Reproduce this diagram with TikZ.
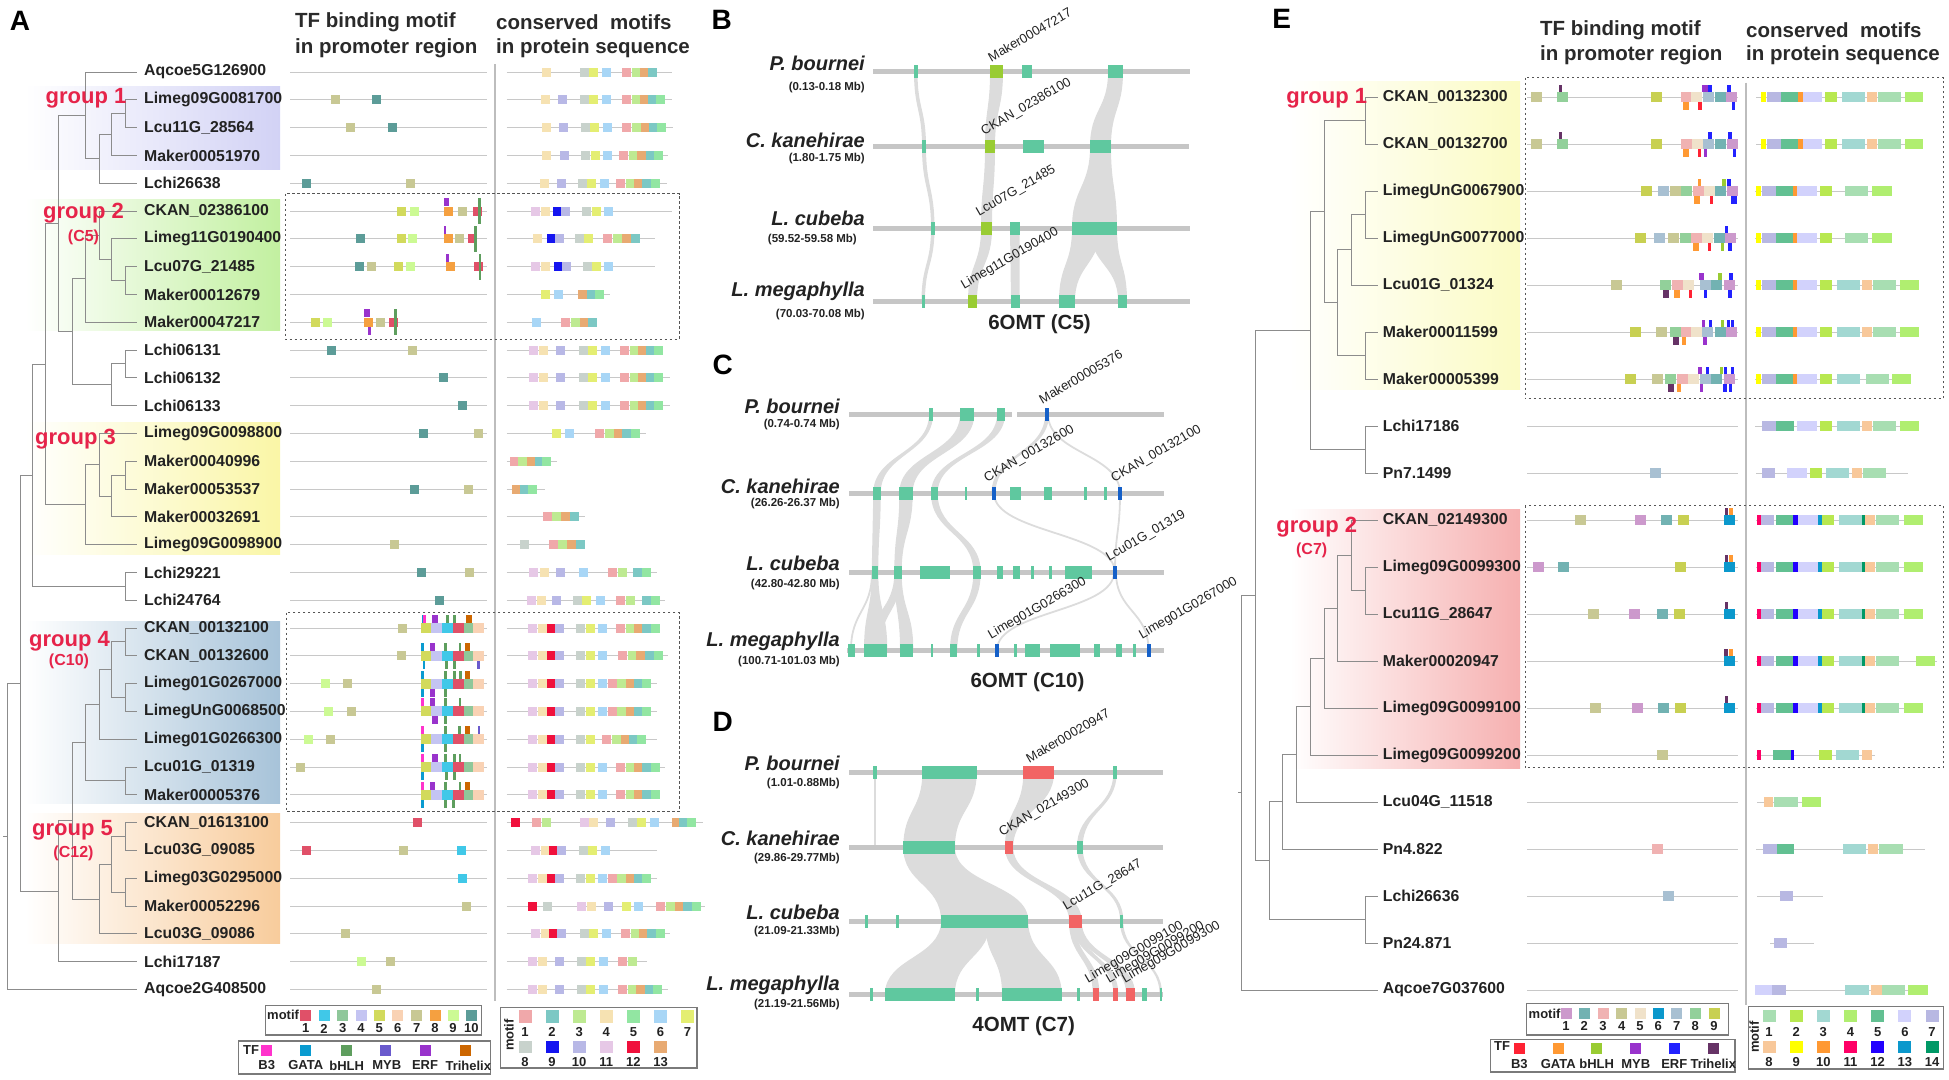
\documentclass[tikz,border=0pt]{standalone}
\usepackage{fontspec}
\setmainfont{Liberation Sans}
\definecolor{labc}{HTML}{222222}
\definecolor{treec}{HTML}{8C8C8C}
\definecolor{grpred}{HTML}{E6244A}
\definecolor{hdrc}{HTML}{2A2A2A}
\definecolor{seqc}{HTML}{C8C8C8}
\definecolor{sepc}{HTML}{BDBDBD}
\definecolor{dashc}{HTML}{555555}
\definecolor{legc}{HTML}{7A7A7A}
\definecolor{G1A}{HTML}{D2D2F5}
\definecolor{G2A}{HTML}{C2F0A0}
\definecolor{G3A}{HTML}{FAF6A6}
\definecolor{G4A}{HTML}{A7C3D9}
\definecolor{G5A}{HTML}{F8CC9C}
\definecolor{G1E}{HTML}{FBFBC4}
\definecolor{G2E}{HTML}{F6B0B0}
\definecolor{Apm1}{HTML}{E05068}
\definecolor{Apm2}{HTML}{40C8E8}
\definecolor{Apm3}{HTML}{8FC79A}
\definecolor{Apm4}{HTML}{C4C4F2}
\definecolor{Apm5}{HTML}{D2DA5C}
\definecolor{Apm6}{HTML}{F9D2B4}
\definecolor{Apm7}{HTML}{C8C894}
\definecolor{Apm8}{HTML}{F5A040}
\definecolor{Apm9}{HTML}{CCFA94}
\definecolor{Apm10}{HTML}{5C9C98}
\definecolor{aB3}{HTML}{FF33CC}
\definecolor{aGATA}{HTML}{0A9BD0}
\definecolor{abHLH}{HTML}{5E9E5E}
\definecolor{aMYB}{HTML}{6A5ACD}
\definecolor{aERF}{HTML}{9933CC}
\definecolor{aTri}{HTML}{CC6600}
\definecolor{Apr1}{HTML}{F0A8AA}
\definecolor{Apr2}{HTML}{7CC8C4}
\definecolor{Apr3}{HTML}{BEEA92}
\definecolor{Apr4}{HTML}{F6E2B2}
\definecolor{Apr5}{HTML}{92E6A2}
\definecolor{Apr6}{HTML}{A8D6F6}
\definecolor{Apr7}{HTML}{E4EE72}
\definecolor{Apr8}{HTML}{C8D2CC}
\definecolor{Apr9}{HTML}{1414F0}
\definecolor{Apr10}{HTML}{B8B8E6}
\definecolor{Apr11}{HTML}{E6C8E6}
\definecolor{Apr12}{HTML}{F0103C}
\definecolor{Apr13}{HTML}{E8AA72}
\definecolor{Epm1}{HTML}{CC99CC}
\definecolor{Epm2}{HTML}{72B2B2}
\definecolor{Epm3}{HTML}{F0B2B2}
\definecolor{Epm4}{HTML}{C8C894}
\definecolor{Epm5}{HTML}{F0E2CA}
\definecolor{Epm6}{HTML}{0B98CC}
\definecolor{Epm7}{HTML}{A8C0D2}
\definecolor{Epm8}{HTML}{92D09A}
\definecolor{Epm9}{HTML}{C8D052}
\definecolor{eB3}{HTML}{FF2233}
\definecolor{eGATA}{HTML}{FF9933}
\definecolor{ebHLH}{HTML}{99CC33}
\definecolor{eMYB}{HTML}{9933CC}
\definecolor{eERF}{HTML}{2222FF}
\definecolor{eTri}{HTML}{663366}
\definecolor{Epr1}{HTML}{A8DEB2}
\definecolor{Epr2}{HTML}{B8E850}
\definecolor{Epr3}{HTML}{A2D8D2}
\definecolor{Epr4}{HTML}{B0EE70}
\definecolor{Epr5}{HTML}{62C092}
\definecolor{Epr6}{HTML}{D2D2FC}
\definecolor{Epr7}{HTML}{B8B8E2}
\definecolor{Epr8}{HTML}{F8C89A}
\definecolor{Epr9}{HTML}{FFFF00}
\definecolor{Epr10}{HTML}{FF9933}
\definecolor{Epr11}{HTML}{FF0066}
\definecolor{Epr12}{HTML}{2200FF}
\definecolor{Epr13}{HTML}{0B98CC}
\definecolor{Epr14}{HTML}{009966}
\definecolor{genec}{HTML}{5FC89F}
\definecolor{limec}{HTML}{99CC33}
\definecolor{bluec}{HTML}{1560C8}
\definecolor{redc}{HTML}{F26464}
\definecolor{chrc}{HTML}{C6C6C6}
\definecolor{ribc}{HTML}{DCDCDC}

\newcommand{\rib}[6]{\fill[ribc] (#1,#3) .. controls (#1,{(#3+#6)/2}) and (#4,{(#3+#6)/2}) .. (#4,#6) -- (#5,#6) .. controls (#5,{(#3+#6)/2}) and (#2,{(#3+#6)/2}) .. (#2,#3) -- cycle;}
\newcommand{\thinrib}[4]{\draw[ribc, line width=1.8pt] (#1,#2) .. controls (#1,{(#2+#4)/2}) and (#3,{(#2+#4)/2}) .. (#3,#4);}
\newcommand{\gbox}[4]{\fill[#4] (#1,{#3-6.5}) rectangle (#2,{#3+6.5});}

\begin{document}
\begin{tikzpicture}[x=1pt,y=-1pt,
 tl/.style={draw=treec, line width=0.9pt},
 lab/.style={anchor=west, inner sep=0, font=\fontsize{15.8}{18}\selectfont\bfseries, text=labc},
 grp/.style={inner sep=0, font=\fontsize{22}{24}\selectfont\bfseries, text=grpred},
 grpsub/.style={inner sep=0, font=\fontsize{16}{18}\selectfont\bfseries, text=grpred},
 hdr/.style={anchor=west, inner sep=0, font=\fontsize{20.5}{23}\selectfont\bfseries, text=hdrc},
 seqline/.style={draw=seqc, line width=0.8pt},
 sepline/.style={draw=sepc, line width=2.5pt},
 dbox/.style={draw=dashc, line width=0.9pt, dash pattern=on 2.5pt off 2.5pt},
 panel/.style={inner sep=0, font=\fontsize{28}{30}\selectfont\bfseries},
 sp/.style={anchor=east, inner sep=0, font=\fontsize{20}{22}\selectfont\bfseries\itshape, text=labc},
 spr/.style={anchor=east, inner sep=0, font=\fontsize{11.5}{13}\selectfont\bfseries, text=labc},
 chr/.style={draw=chrc, line width=5pt},
 glab/.style={anchor=south west, rotate=30, inner sep=1pt, font=\fontsize{13}{15}\selectfont, text=labc},
 omt/.style={inner sep=0, font=\fontsize{20.5}{22}\selectfont\bfseries, text=labc},
 leg/.style={draw=legc, line width=1.2pt},
 legn/.style={inner sep=0, font=\fontsize{13}{15}\selectfont\bfseries, text=labc},
]
\useasboundingbox (0,0) rectangle (1949,1079);

%================ PANEL A =================
\node[panel] (pA) at (20,20.7) {A};
\shade[left color=white, right color=G1A] (25,86) rectangle (280,169);
\shade[left color=white, right color=G2A] (25,199) rectangle (280,330);
\shade[left color=white, right color=G3A] (25,422) rectangle (280,554);
\shade[left color=white, right color=G4A] (25,621) rectangle (280,803);
\shade[left color=white, right color=G5A] (25,813) rectangle (280,943);

\foreach \i in {0,...,33} \coordinate (tA\i) at (137,{72+27.8*\i});
\coordinate (Aa) at (125,113.7);
\coordinate (Ab) at (111,134.55);
\coordinate (Ac) at (99,158.9);
\coordinate (Ad) at (85,115.4);
\coordinate (Ae) at (125,280.5);
\coordinate (Af) at (111,259.65);
\coordinate (Ag) at (99,235.3);
\coordinate (Ah) at (85,278.8);
\coordinate (Ai) at (125,363.9);
\coordinate (Aj) at (111,384.75);
\coordinate (Ak) at (72,331.8);
\coordinate (Al) at (58,223.6);
\coordinate (Am) at (125,475.1);
\coordinate (An) at (111,495.95);
\coordinate (Ao) at (99,464.7);
\coordinate (Ap) at (85,504.65);
\coordinate (Aq) at (45,364.1);
\coordinate (Ar) at (125,586.3);
\coordinate (As) at (32,475.2);
\coordinate (At) at (125,641.9);
\coordinate (Au) at (125,697.5);
\coordinate (Av) at (111,669.7);
\coordinate (Aw) at (99,704.45);
\coordinate (Ax) at (125,780.9);
\coordinate (Ay) at (85,742.7);
\coordinate (Az1) at (125,836.5);
\coordinate (Az2) at (125,892.1);
\coordinate (Az3) at (111,864.3);
\coordinate (Az4) at (99,899.05);
\coordinate (Az5) at (72,820.9);
\coordinate (Az6) at (58,891.25);
\coordinate (Az7) at (20,683.2);
\coordinate (Art) at (7,836.3);
\coordinate (Astub) at (3,836.3);
\foreach \p/\c in {Aa/tA1,Aa/tA2,Ab/Aa,Ab/tA3,Ac/Ab,Ac/tA4,Ad/tA0,Ad/Ac,
  Ae/tA7,Ae/tA8,Af/tA6,Af/Ae,Ag/tA5,Ag/Af,Ah/Ag,Ah/tA9,Ai/tA10,Ai/tA11,Aj/Ai,Aj/tA12,
  Ak/Ah,Ak/Aj,Al/Ad,Al/Ak,Am/tA14,Am/tA15,An/Am,An/tA16,Ao/tA13,Ao/An,Ap/Ao,Ap/tA17,
  Aq/Al,Aq/Ap,Ar/tA18,Ar/tA19,As/Aq,As/Ar,At/tA20,At/tA21,Au/tA22,Au/tA23,Av/At,Av/Au,
  Aw/Av,Aw/tA24,Ax/tA25,Ax/tA26,Ay/Aw,Ay/Ax,Az1/tA27,Az1/tA28,Az2/tA29,Az2/tA30,
  Az3/Az1,Az3/Az2,Az4/Az3,Az4/tA31,Az5/Ay,Az5/Az4,Az6/Az5,Az6/tA32,Az7/As,Az7/Az6,
  Art/Az7,Art/tA33}
  \draw[tl] (\p) |- (\c);
\draw[tl] (Astub) -- (Art);

\foreach \i/\t in {0/Aqcoe5G126900,1/Limeg09G0081700,2/Lcu11G\_28564,3/Maker00051970,
  4/Lchi26638,5/CKAN\_02386100,6/Limeg11G0190400,7/Lcu07G\_21485,8/Maker00012679,
  9/Maker00047217,10/Lchi06131,11/Lchi06132,12/Lchi06133,13/Limeg09G0098800,
  14/Maker00040996,15/Maker00053537,16/Maker00032691,17/Limeg09G0098900,18/Lchi29221,
  19/Lchi24764,20/CKAN\_00132100,21/CKAN\_00132600,22/Limeg01G0267000,23/LimegUnG0068500,
  24/Limeg01G0266300,25/Lcu01G\_01319,26/Maker00005376,27/CKAN\_01613100,28/Lcu03G\_09085,
  29/Limeg03G0295000,30/Maker00052296,31/Lcu03G\_09086,32/Lchi17187,33/Aqcoe2G408500}
  \node[lab] (LA\i) at (144,{72+27.8*\i}) {\t};

\node[grp] (gA1) at (86,98) {group 1};
\node[grp] (gA2) at (83.5,213.5) {group 2};
\node[grpsub] (gA2s) at (83.5,237.6) {(C5)};
\node[grp] (gA3) at (75.5,439) {group 3};
\node[grp] (gA4) at (69.5,641) {group 4};
\node[grpsub] (gA4s) at (69,661) {(C10)};
\node[grp] (gA5) at (72.5,830) {group 5};
\node[grpsub] (gA5s) at (73.5,853) {(C12)};

\node[hdr] (hA1) at (295,22) {TF binding motif};
\node[hdr] (hA2) at (295,48) {in promoter region};
\node[hdr] (hA3) at (496,22) {conserved\ \ motifs};
\node[hdr] (hA4) at (496,48) {in protein sequence};
\draw[sepline] (495,64) -- (495,1001);

% promoter lines
\foreach \i in {0,...,33} \draw[seqline] (290,{72+27.8*\i}) -- (487,{72+27.8*\i});
% promoter motifs
\foreach \r/\lst in {1/{195/7,318/10},2/{242/7,367/10},4/{110/10,420/7},
  5/{395/5,433/9,535/8,578/7,621/1},6/{270/10,393/5,428/9,535/8,567/7,606/1},
  7/{268/10,304/7,385/5,422/9,541/8,625/1},9/{135/5,172/9,296/8,330/7,369/1},
  10/{185/10,428/7},11/{521/10},12/{577/10},13/{460/10,625/7},15/{432/10,595/7},
  17/{372/7},18/{453/10,597/7},19/{507/10},20/{397/7},21/{393/7},22/{165/9,231/7},
  23/{175/9,243/7},24/{115/9,182/7},25/{90/7},27/{443/1},28/{110/1,401/7,573/2},
  29/{577/2},30/{588/7},31/{227/7},32/{275/9,362/7},33/{320/7}}{
  \pgfmathsetmacro\yy{72+27.8*\r}
  \foreach \zx/\m in \lst {\fill[Apm\m] ({270+\zx/3-4.5},\yy-4.5) rectangle ++(9,9);}
}
\foreach \r in {20,...,26}{
  \pgfmathsetmacro\yy{72+27.8*\r}
  \foreach \zx/\m in {468/5,500/4,532/2,565/1,597/3,625/6}
    {\fill[Apm\m] ({270+\zx/3-5.3},\yy-5) rectangle ++(10.6,10);}
}
% TF ticks A
\foreach \r/\lst in {5/{530/aERF/4,628/abHLH/3},6/{525/aERF/1,616/abHLH/3},
  7/{532/aERF/1,630/abHLH/3},9/{291/aERF/4,299/aERF/2,376/abHLH/3},
  20/{459/aGATA/1,463/aB3/1,495/aERF/4,533/abHLH/1,553/abHLH/1,597/aTri/4},
  21/{458/aGATA/1,488/aERF/4,527/abHLH/1,570/abHLH/1,593/aTri/4,462/aGATA/2,530/abHLH/2,553/abHLH/2,625/aMYB/2},
  22/{458/aGATA/1,527/abHLH/1,553/abHLH/1,572/abHLH/1,593/aTri/4,458/aGATA/2,488/aERF/5,527/abHLH/2},
  23/{458/aB3/1,488/aERF/4,527/abHLH/1,570/abHLH/1,495/aERF/5,527/abHLH/2},
  24/{458/aB3/1,527/abHLH/1,568/abHLH/1,593/aTri/4,627/aMYB/1,458/aGATA/2,527/abHLH/2},
  25/{458/aB3/1,495/aERF/4,527/abHLH/1,553/abHLH/1,570/abHLH/1,458/aGATA/2,530/abHLH/2,553/abHLH/2},
  26/{458/aB3/1,488/aERF/4,527/abHLH/1,570/abHLH/1,593/aTri/4,458/aGATA/2,527/abHLH/2,550/abHLH/2}}{
  \pgfmathsetmacro\yy{72+27.8*\r}
  \foreach \zx/\c/\p in \lst {
    \pgfmathsetmacro\xx{270+\zx/3}
    \ifcase\p\or
      \fill[\c] (\xx-1.4,\yy-13) rectangle ++(2.8,8);
    \or
      \fill[\c] (\xx-1.4,\yy+5) rectangle ++(2.8,8);
    \or
      \fill[\c] (\xx-1.4,\yy-13) rectangle ++(2.8,26);
    \or
      \fill[\c] (\xx-2.6,\yy-13) rectangle ++(5.2,8);
    \or
      \fill[\c] (\xx-2.6,\yy+5) rectangle ++(5.2,8);
    \fi
  }
}
% protein lines A
\foreach \r/\e in {0/1205,1/1205,2/1208,3/1195,4/1190,5/1205,6/1155,7/1155,8/1020,9/980,
  10/1180,11/1200,12/1200,13/1128,14/860,15/825,16/945,17/945,18/1160,19/1185,20/1165,
  21/1195,22/1160,23/1160,24/1160,25/1185,26/1165,27/1300,28/1160,29/1160,30/1305,
  31/1200,32/1130,33/1195}
  \draw[seqline] (506.7,{72+27.8*\r}) -- ({270+\e/3},{72+27.8*\r});
\foreach \r/\lst in {
  0/{830/4,943/8,970/7,1010/6,1068/1,1098/3,1122/13,1148/2},
  1/{826/4,878/10,943/8,970/7,1010/6,1068/1,1098/3,1122/13,1148/2,1172/5},
  2/{830/4,880/10,945/8,973/7,1013/6,1070/1,1100/3,1125/13,1150/2,1175/5},
  3/{830/4,882/10,947/8,975/7,1013/6,1060/1,1090/3,1115/13,1140/2,1165/5},
  4/{822/4,873/10,937/8,965/7,1003/6,1050/1,1080/3,1105/13,1130/2,1155/5},
  5/{795/11,825/4,862/9,887/10,950/8,978/7,1015/6},
  6/{803/4,843/9,867/10,928/8,955/7,1011/1,1041/3,1070/13,1095/2},
  7/{797/11,827/4,865/9,890/10,953/8,980/7,1016/6},
  8/{826/7,866/6,938/13,963/2,988/5},
  9/{800/6,885/1,915/3,943/13,967/2},
  10/{790/11,820/4,872/10,940/8,967/7,1006/6,1063/1,1093/3,1117/13,1140/2,1166/5},
  11/{790/11,820/4,872/10,940/8,967/7,1006/6,1063/1,1093/3,1117/13,1140/2,1166/5},
  12/{790/11,820/4,872/10,940/8,967/7,1006/6,1063/1,1093/3,1117/13,1140/2,1166/5},
  13/{858/7,897/6,988/1,1017/3,1045/13,1068/2,1095/5},
  14/{732/1,758/3,783/13,807/2,830/5},
  15/{740/13,763/2,788/5},
  16/{832/1,860/3,885/13,912/2},
  17/{763/8,850/1,878/3,905/13,930/2},
  18/{790/11,822/4,870/10,940/6,1028/1,1058/3,1103/2,1130/5},
  19/{783/11,815/4,860/10,921/8,948/7,990/6,1052/1,1080/3,1128/2,1155/5},
  20/{788/11,817/4,843/12,868/10,932/8,960/7,998/6,1050/1,1080/3,1105/13,1130/2,1155/5},
  21/{788/11,817/4,843/12,868/10,932/8,960/7,998/6,1058/1,1088/3,1112/13,1138/2,1165/5},
  22/{788/11,817/4,843/12,868/10,932/8,960/7,998/6,1027/1,1055/3,1080/13,1105/2,1130/5},
  23/{788/11,817/4,843/12,868/10,932/8,960/7,998/6,1027/1,1055/3,1080/13,1105/2,1130/5},
  24/{788/11,817/4,843/12,868/10,932/8,960/7,1010/1,1040/3,1065/13,1090/2,1115/5},
  25/{788/11,817/4,843/12,868/10,932/8,960/7,998/6,1050/1,1080/3,1105/13,1130/2,1155/5},
  26/{788/11,817/4,843/12,868/10,932/8,960/7,998/6,1050/1,1080/3,1105/13,1130/2,1155/5},
  27/{735/12,798/1,828/3,942/11,970/4,1020/10,1088/8,1115/7,1153/6,1218/13,1240/2,1265/5},
  28/{795/11,825/4,850/12,875/10,940/8,968/7,1006/6},
  29/{788/11,817/4,843/12,868/10,932/8,960/7,998/6,1027/1,1055/3,1080/13,1105/2,1130/5},
  30/{788/12,832/8,935/11,965/4,1015/10,1068/7,1105/6,1172/1,1200/3,1228/13,1252/2,1278/5},
  31/{795/11,825/4,850/12,875/10,942/8,970/7,1008/6,1065/1,1095/3,1120/13,1143/2,1170/5},
  32/{788/11,818/4,868/10,933/8,960/7,1000/6,1057/1,1087/3},
  33/{788/11,818/4,868/10,933/8,960/7,1000/6,1057/1,1087/3,1112/13,1137/2,1162/5}}{
  \pgfmathsetmacro\yy{72+27.8*\r}
  \foreach \zx/\m in \lst {\fill[Apr\m] ({270+\zx/3-4.5},\yy-4.5) rectangle ++(9,9);}
}
\draw[dbox] (285,193.5) rectangle (679.3,339);
\draw[dbox] (286,612.7) rectangle (679.3,811.6);

% legends A
\draw[leg] (265.7,1005.6) rectangle (481.7,1035);
\node[legn, anchor=west] (lAm) at (267,1015) {motif};
\foreach \i/\x in {1/305.7,2/324,3/342.7,4/361,5/379.3,6/397.7,7/416.7,8/435,9/453,10/471.3}{
  \fill[Apm\i] (\x-5.5,1010) rectangle ++(11,11);
  \node[legn] (lAmn\i) at (\x,1028.5) {\i};
}
\draw[leg] (238.7,1041) rectangle (490.7,1074);
\node[legn, anchor=west] (lAtf) at (243,1050) {TF};
\foreach \c/\t/\x/\tx in {aB3/B3/266/266.7,aGATA/GATA/305.7/305.7,abHLH/bHLH/346/346.7,
  aMYB/MYB/385/386.7,aERF/ERF/425/425,aTri/Trihelix/465.7/468.3}{
  \fill[\c] (\x-5.5,1045) rectangle ++(11,11);
  \node[legn] (lAt\t) at (\tx,1065.5) {\t};
}
\draw[leg] (500.7,1007.7) rectangle (697,1068);
\node[legn, rotate=90] (lApm) at (509,1035) {motif};
\foreach \i in {1,...,7}{
  \pgfmathsetmacro\xx{525+27.1*(\i-1)}
  \fill[Apr\i] (\xx-6.5,1010.4) rectangle ++(13,12.5);
  \node[legn] (lApn\i) at (\xx,1032) {\i};
}
\foreach \i in {8,...,13}{
  \pgfmathsetmacro\xx{525+27.1*(\i-8)}
  \fill[Apr\i] (\xx-6.5,1040.8) rectangle ++(13,12.5);
  \node[legn] (lApn\i) at (\xx,1062) {\i};
}

%================ PANEL B =================
\node[panel] (pB) at (721.7,20) {B};
\rib{914}{917.5}{71.7}{922}{926}{146.7}
\rib{922}{926}{146.7}{931}{934.5}{228.3}
\rib{931}{934.5}{228.3}{921.5}{925}{301}
\rib{990}{1003}{71.7}{985}{995}{146.7}
\rib{985}{995}{146.7}{981}{992}{228.3}
\rib{981}{992}{228.3}{968}{977}{301}
\rib{1010}{1019.6}{228.3}{1011}{1019.6}{301}
\rib{1108}{1123}{71.7}{1090}{1111}{146.7}
\rib{1090}{1111}{146.7}{1072}{1117}{228.3}
\rib{1072}{1100}{228.3}{1059}{1075}{301}
\rib{1090}{1117}{228.3}{1118}{1127}{301}
\draw[chr] (873,71.7) -- (1190,71.7);
\draw[chr] (873,146.7) -- (1189,146.7);
\draw[chr] (873,228.3) -- (1190,228.3);
\draw[chr] (873,301) -- (1190,301);
\gbox{914}{917.5}{71.7}{genec}\gbox{990}{1003}{71.7}{limec}\gbox{1021.7}{1031.7}{71.7}{genec}\gbox{1108}{1123}{71.7}{genec}
\gbox{922}{926}{146.7}{genec}\gbox{985}{995}{146.7}{limec}\gbox{1023}{1044}{146.7}{genec}\gbox{1090}{1111}{146.7}{genec}
\gbox{931}{934.5}{228.3}{genec}\gbox{981}{992}{228.3}{limec}\gbox{1010}{1019.6}{228.3}{genec}\gbox{1072}{1117}{228.3}{genec}
\gbox{921.5}{925}{301}{genec}\gbox{968}{977}{301}{limec}\gbox{1011}{1019.6}{301}{genec}\gbox{1059}{1075}{301}{genec}\gbox{1118}{1127}{301}{genec}
\node[sp] (Bs1) at (865,63.3) {P. bournei};
\node[spr] (Bs1r) at (865,87.3) {(0.13-0.18 Mb)};
\node[sp] (Bs2) at (865,140) {C. kanehirae};
\node[spr] (Bs2r) at (865,158.3) {(1.80-1.75 Mb)};
\node[sp] (Bs3) at (865,218.3) {L. cubeba};
\node[spr] (Bs3r) at (857,240) {(59.52-59.58 Mb)};
\node[sp] (Bs4) at (865,291.7) {L. megaphylla};
\node[spr] (Bs4r) at (865,315) {(70.03-70.08 Mb)};
\node[glab] (Bg1) at (991,64) {Maker00047217};
\node[glab] (Bg2) at (985,139) {CKAN\_02386100};
\node[glab] (Bg3) at (980,220) {Lcu07G\_21485};
\node[glab] (Bg4) at (965,293) {Limeg11G0190400};
\node[omt] (Bt) at (1039.5,324) {6OMT (C5)};

%================ PANEL C =================
\node[panel] (pC) at (722.7,365) {C};
\rib{929}{933}{414}{873.3}{880.7}{493.3}
\rib{960}{974.3}{414}{899.3}{912.7}{493.3}
\rib{997}{1005}{414}{931}{937.7}{493.3}
\rib{873.3}{880.7}{493.3}{871.7}{878.3}{572.3}
\rib{899.3}{912.7}{493.3}{894.3}{901.7}{572.3}
\rib{931}{937.7}{493.3}{973.3}{980.7}{572.3}
\rib{871.7}{878.3}{572.3}{864}{887.3}{650}
\rib{894.3}{901.7}{572.3}{868}{880}{650}
\rib{894.3}{901.7}{572.3}{900}{913.3}{650}
\rib{973.3}{980.7}{572.3}{950}{957.3}{650}
\thinrib{872}{572.3}{851}{650}
\rib{1045}{1049}{414}{991.5}{995.5}{493.3}
\thinrib{1048}{414}{1120}{493.3}
\thinrib{994}{493.3}{1115}{572.3}
\thinrib{1120}{493.3}{1115}{572.3}
\thinrib{1114}{572.3}{997}{650}
\thinrib{1116}{572.3}{1148.5}{650}
\draw[chr] (849,414) -- (1012,414);
\draw[chr] (1017,414) -- (1164,414);
\draw[chr] (849,493.3) -- (1164,493.3);
\draw[chr] (849,572.3) -- (1164,572.3);
\draw[chr] (847,650) -- (1164,650);
\gbox{929}{933}{414}{genec}\gbox{960}{974.3}{414}{genec}\gbox{997}{1005}{414}{genec}\gbox{1045}{1049}{414}{bluec}
\gbox{873.3}{880.7}{493.3}{genec}\gbox{899.3}{912.7}{493.3}{genec}\gbox{931}{937.7}{493.3}{genec}\gbox{964.5}{967}{493.3}{genec}
\gbox{991.5}{995.5}{493.3}{bluec}\gbox{1010}{1020.7}{493.3}{genec}\gbox{1044}{1051.7}{493.3}{genec}\gbox{1084}{1086.5}{493.3}{genec}
\gbox{1104}{1106.5}{493.3}{genec}\gbox{1118}{1122}{493.3}{bluec}
\gbox{871.7}{878.3}{572.3}{genec}\gbox{894.3}{901.7}{572.3}{genec}\gbox{920}{950}{572.3}{genec}\gbox{973.3}{980.7}{572.3}{genec}
\gbox{997}{1003}{572.3}{genec}\gbox{1013.3}{1020}{572.3}{genec}\gbox{1031}{1033.5}{572.3}{genec}\gbox{1049}{1051.5}{572.3}{genec}
\gbox{1065}{1091.7}{572.3}{genec}\gbox{1113}{1117}{572.3}{bluec}
\gbox{848.3}{855}{650}{genec}\gbox{864}{887.3}{650}{genec}\gbox{900}{913.3}{650}{genec}\gbox{930.5}{933}{650}{genec}
\gbox{950}{957.3}{650}{genec}\gbox{977}{979.5}{650}{genec}\gbox{995}{999}{650}{bluec}\gbox{1014}{1016.5}{650}{genec}
\gbox{1025}{1040}{650}{genec}\gbox{1050}{1080}{650}{genec}\gbox{1094.3}{1100}{650}{genec}\gbox{1116}{1121.7}{650}{genec}
\gbox{1133}{1135.5}{650}{genec}\gbox{1146.5}{1150.5}{650}{bluec}
\node[sp] (Cs1) at (840,406.7) {P. bournei};
\node[spr] (Cs1r) at (840,424.3) {(0.74-0.74 Mb)};
\node[sp] (Cs2) at (840,486.7) {C. kanehirae};
\node[spr] (Cs2r) at (840,503.3) {(26.26-26.37 Mb)};
\node[sp] (Cs3) at (840,563.3) {L. cubeba};
\node[spr] (Cs3r) at (840,585) {(42.80-42.80 Mb)};
\node[sp] (Cs4) at (840,641.7) {L. megaphylla};
\node[spr] (Cs4r) at (840,661.7) {(100.71-101.03 Mb)};
\node[glab] (Cg1) at (1042,406) {Maker00005376};
\node[glab] (Cg2) at (988,486) {CKAN\_00132600};
\node[glab] (Cg3) at (1115,486) {CKAN\_00132100};
\node[glab] (Cg4) at (1110,565) {Lcu01G\_01319};
\node[glab] (Cg5) at (992,643) {Limeg01G0266300};
\node[glab] (Cg6) at (1143,643) {Limeg01G0267000};
\node[omt] (Ct) at (1027.5,682) {6OMT (C10)};

%================ PANEL D =================
\node[panel] (pD) at (722.7,721.7) {D};
\thinrib{875}{772.3}{875}{847.3}
\rib{922.3}{976.7}{772.3}{903.3}{955}{847.3}
\rib{903.3}{955}{847.3}{941}{1028.3}{921}
\rib{941}{990}{921}{885}{955}{994}
\rib{985}{1028.3}{921}{1002}{1061.7}{994}
\rib{1023.3}{1054}{772.3}{1005}{1013.3}{847.3}
\rib{1113.3}{1116.7}{772.3}{1077}{1082.7}{847.3}
\rib{1005}{1013.3}{847.3}{1069}{1081.7}{921}
\rib{1077}{1082.7}{847.3}{1120}{1123.3}{921}
\rib{1069}{1075}{921}{1092.7}{1099.3}{994}
\rib{1072}{1078}{921}{1113.3}{1118.3}{994}
\rib{1075}{1081.7}{921}{1126}{1135}{994}
\rib{1120}{1123.3}{921}{1159.5}{1162}{994}
\draw[chr] (849,772.3) -- (1163,772.3);
\draw[chr] (849,847.3) -- (1163,847.3);
\draw[chr] (849,921) -- (1163,921);
\draw[chr] (849,994) -- (1163,994);
\gbox{873.3}{877.3}{772.3}{genec}\gbox{922.3}{976.7}{772.3}{genec}\gbox{1023.3}{1054}{772.3}{redc}\gbox{1113.3}{1116.7}{772.3}{genec}
\gbox{903.3}{955}{847.3}{genec}\gbox{1005}{1013.3}{847.3}{redc}\gbox{1077}{1082.7}{847.3}{genec}
\gbox{865}{868}{921}{genec}\gbox{896}{899}{921}{genec}\gbox{941}{1028.3}{921}{genec}\gbox{1069}{1081.7}{921}{redc}\gbox{1120}{1123.3}{921}{genec}
\gbox{869.5}{872.5}{994}{genec}\gbox{885}{955}{994}{genec}\gbox{975.5}{978.5}{994}{genec}\gbox{1002}{1061.7}{994}{genec}
\gbox{1076.5}{1079.5}{994}{genec}\gbox{1092.7}{1099.3}{994}{redc}\gbox{1113.3}{1118.3}{994}{redc}\gbox{1126}{1135}{994}{redc}
\gbox{1141.7}{1147.3}{994}{genec}\gbox{1159.5}{1162}{994}{genec}
\node[sp] (Ds1) at (840,763.3) {P. bournei};
\node[spr] (Ds1r) at (840,783.3) {(1.01-0.88Mb)};
\node[sp] (Ds2) at (840,838.3) {C. kanehirae};
\node[spr] (Ds2r) at (840,858.3) {(29.86-29.77Mb)};
\node[sp] (Ds3) at (840,912) {L. cubeba};
\node[spr] (Ds3r) at (840,932) {(21.09-21.33Mb)};
\node[sp] (Ds4) at (840,985.5) {L. megaphylla};
\node[spr] (Ds4r) at (840,1005) {(21.19-21.56Mb)};
\node[glab] (Dg1) at (1029,765) {Maker00020947};
\node[glab] (Dg2) at (1003,840) {CKAN\_02149300};
\node[glab] (Dg3) at (1067,914) {Lcu11G\_28647};
\node[glab] (Dg4) at (1089,987) {Limeg09G0099100};
\node[glab] (Dg5) at (1110,987) {Limeg09G0099200};
\node[glab] (Dg6) at (1126,987) {Limeg09G0099300};
\node[omt] (Dt) at (1023.7,1026) {4OMT (C7)};

%================ PANEL E =================
\node[panel] (pE) at (1281.7,19) {E};
\shade[left color=white, right color=G1E] (1290,81) rectangle (1520,389);
\shade[left color=white, right color=G2E] (1290,509) rectangle (1520,768);
\foreach \i in {0,...,19} \coordinate (tE\i) at (1378,{97+47*\i});
\coordinate (Ee1) at (1365.7,120.5);
\coordinate (Ee2) at (1365.7,214.5);
\coordinate (Ee3) at (1351.7,249.75);
\coordinate (Ee4) at (1365.7,355.5);
\coordinate (Ee5) at (1337.7,302.6);
\coordinate (Ee6) at (1324.3,211.55);
\coordinate (Ee7) at (1365.7,449.5);
\coordinate (Ee8) at (1310.7,330.5);
\coordinate (Ef1) at (1365.7,590.5);
\coordinate (Ef2) at (1351.7,555.25);
\coordinate (Ef3) at (1337.7,608.1);
\coordinate (Ef4) at (1324.3,658.05);
\coordinate (Ef5) at (1310.7,706.5);
\coordinate (Ef6) at (1296.7,754.25);
\coordinate (Ef7) at (1282.7,801.6);
\coordinate (Ef8) at (1365.7,919.5);
\coordinate (Ef9) at (1269.3,860.55);
\coordinate (Eg1) at (1255.3,595.5);
\coordinate (Ert) at (1241,792.75);
\coordinate (Estub) at (1238,792.75);
\foreach \p/\c in {Ee1/tE0,Ee1/tE1,Ee2/tE2,Ee2/tE3,Ee3/Ee2,Ee3/tE4,Ee4/tE5,Ee4/tE6,
  Ee5/Ee3,Ee5/Ee4,Ee6/Ee1,Ee6/Ee5,Ee7/tE7,Ee7/tE8,Ee8/Ee6,Ee8/Ee7,Ef1/tE10,Ef1/tE11,
  Ef2/tE9,Ef2/Ef1,Ef3/Ef2,Ef3/tE12,Ef4/Ef3,Ef4/tE13,Ef5/Ef4,Ef5/tE14,Ef6/Ef5,Ef6/tE15,
  Ef7/Ef6,Ef7/tE16,Ef8/tE17,Ef8/tE18,Ef9/Ef7,Ef9/Ef8,Eg1/Ee8,Eg1/Ef9,Ert/Eg1,Ert/tE19}
  \draw[tl] (\p) |- (\c);
\draw[tl] (Estub) -- (Ert);
\foreach \i/\t in {0/CKAN\_00132300,1/CKAN\_00132700,2/LimegUnG0067900,3/LimegUnG0077000,
  4/Lcu01G\_01324,5/Maker00011599,6/Maker00005399,7/Lchi17186,8/Pn7.1499,9/CKAN\_02149300,
  10/Limeg09G0099300,11/Lcu11G\_28647,12/Maker00020947,13/Limeg09G0099100,
  14/Limeg09G0099200,15/Lcu04G\_11518,16/Pn4.822,17/Lchi26636,18/Pn24.871,19/Aqcoe7G037600}
  \node[lab] (LE\i) at (1382.7,{97+47*\i}) {\t};
\node[grp] (gE1) at (1326.7,98) {group 1};
\node[grp] (gE2) at (1316.7,527) {group 2};
\node[grpsub] (gE2s) at (1311.7,550.3) {(C7)};

\node[hdr] (hE1) at (1540,30.3) {TF binding motif};
\node[hdr] (hE2) at (1540,55) {in promoter region};
\node[hdr] (hE3) at (1746,30.3) {conserved\ \ motifs};
\node[hdr] (hE4) at (1746,55) {in protein sequence};
\draw[sepline] (1746,82.6) -- (1746,1005);

\foreach \i in {0,...,19} \draw[seqline] (1527.3,{97+47*\i}) -- (1737.7,{97+47*\i});
\foreach \r/\lst in {
  0/{288/4,368/8,648/9,738/3,770/5,805/7,840/2,875/1},
  1/{288/4,368/8,650/9,738/3,772/5,805/7,842/2,877/1},
  2/{620/9,670/7,707/4,740/8,775/3,808/5,842/2,877/1},
  3/{600/9,658/7,700/4,737/8,770/3,803/5,837/2,872/1},
  4/{528/4,676/8,713/3,745/5,795/7,828/2,868/1},
  5/{585/9,665/4,705/8,738/3,770/5,803/7,840/2,875/1},
  6/{570/9,652/4,690/8,727/3,760/5,795/7,830/2,867/1},
  8/{645/7},9/{420/4,601/1,678/2,731/9,867/6},10/{296/1,371/2,720/9,867/6},
  11/{460/4,584/1,668/2,718/9,867/6},12/{867/6},13/{467/4,593/1,669/2,720/9,867/6},
  14/{666/4},16/{652/3},17/{686/7}}{
  \pgfmathsetmacro\yy{97+47*\r}
  \foreach \zx/\m in \lst {\fill[Epm\m] ({1440+\zx/3-5.5},\yy-5) rectangle ++(11,10);}
}
\foreach \r/\lst in {
  0/{362/eTri/1,795/eMYB/4,810/eERF/1,867/eERF/1,733/eGATA/2,741/eGATA/2,780/eB3/2,880/eERF/2},
  1/{362/eTri/1,810/eERF/1,870/eERF/1,733/eGATA/2,741/eGATA/2,778/eB3/2,797/eMYB/2,884/eERF/2},
  2/{778/eGATA/1,852/ebHLH/1,867/eERF/1,766/eGATA/2,774/eGATA/2,815/eB3/2,882/eERF/5},
  3/{860/eERF/1,764/eGATA/2,772/eGATA/2,808/eB3/2,848/ebHLH/2,870/eERF/2},
  4/{785/eMYB/4,840/ebHLH/1,873/eERF/1,678/eTri/5,707/eGATA/2,715/eGATA/2,752/eB3/2,797/eERF/2,870/eERF/2},
  5/{790/eMYB/1,812/eERF/1,848/ebHLH/1,865/eERF/1,878/eERF/1,708/eTri/5,732/eGATA/2,795/eMYB/2},
  6/{780/eMYB/1,803/eERF/1,845/ebHLH/1,856/eERF/1,878/eERF/1,693/eTri/5,717/eGATA/2,785/eMYB/2,855/eERF/2,872/eERF/2},
  9/{860/eTri/1,873/eGATA/1},10/{860/eTri/1,873/eGATA/1},11/{860/eTri/1},
  12/{858/eTri/1,873/eGATA/1},13/{860/eTri/1}}{
  \pgfmathsetmacro\yy{97+47*\r}
  \foreach \zx/\c/\p in \lst {
    \pgfmathsetmacro\xx{1440+\zx/3}
    \ifcase\p\or
      \fill[\c] (\xx-1.6,\yy-12.5) rectangle ++(3.2,7.5);
    \or
      \fill[\c] (\xx-1.6,\yy+5) rectangle ++(3.2,7.5);
    \or
      \fill[\c] (\xx-1.6,\yy-12.5) rectangle ++(3.2,25);
    \or
      \fill[\c] (\xx-2.8,\yy-12.5) rectangle ++(5.6,7.5);
    \or
      \fill[\c] (\xx-2.8,\yy+5) rectangle ++(5.6,7.5);
    \fi
  }
}
% protein lines E
\foreach \r/\s/\e in {0/948/1450,1/948/1450,2/945/1355,3/945/1355,4/945/1437,5/945/1437,
  6/945/1413,7/945/1437,8/948/1405,9/948/1450,10/948/1450,11/948/1450,12/948/1490,
  13/948/1450,14/948/1305,15/952/1143,16/948/1455,17/952/1150,18/990/1123,19/945/1463}
  \draw[seqline] ({1440+\s/3},{97+47*\r}) -- ({1440+\e/3},{97+47*\r});
\foreach \r in {0,1}{\pgfmathsetmacro\yy{97+47*\r}
  \foreach \s/\e/\m in {962/978/9,982/1022/7,1022/1075/5,1075/1088/10,1088/1145/6,1155/1192/2,1205/1275/3,1282/1310/8,1315/1383/1,1395/1450/4}
  {\fill[Epr\m] ({1440+\s/3},\yy-5.3) rectangle ({1440+\e/3},\yy+5.3);}}
\foreach \r in {2,3}{\pgfmathsetmacro\yy{97+47*\r}
  \foreach \s/\e/\m in {948/962/9,965/1007/7,1008/1060/5,1060/1072/10,1072/1130/6,1140/1177/2,1215/1285/1,1297/1355/4}
  {\fill[Epr\m] ({1440+\s/3},\yy-5.3) rectangle ({1440+\e/3},\yy+5.3);}}
\foreach \r in {4,5}{\pgfmathsetmacro\yy{97+47*\r}
  \foreach \s/\e/\m in {948/962/9,965/1007/7,1008/1060/5,1060/1072/10,1072/1130/6,1140/1177/2,1190/1260/3,1267/1295/8,1298/1368/1,1380/1437/4}
  {\fill[Epr\m] ({1440+\s/3},\yy-5.3) rectangle ({1440+\e/3},\yy+5.3);}}
\foreach \r/\lst in {
  6/{948/962/9,965/1007/7,1008/1060/5,1060/1072/10,1072/1130/6,1140/1177/2,1190/1260/3,1277/1347/1,1357/1413/4},
  7/{965/1007/7,1008/1062/5,1072/1130/6,1140/1177/2,1190/1260/3,1267/1295/8,1298/1368/1,1380/1437/4},
  8/{965/1005/7,1042/1100/6,1110/1145/2,1158/1228/3,1237/1267/8,1270/1338/1},
  12/{950/962/11,962/1002/7,1008/1060/5,1060/1073/12,1073/1133/6,1133/1145/13,1145/1183/2,1197/1265/3,1265/1275/14,1275/1305/8,1308/1378/1,1428/1485/4},
  14/{950/962/11,998/1052/5,1052/1063/12,1138/1175/2,1188/1257/3,1267/1297/8},
  15/{972/1000/8,1003/1073/1,1087/1143/4},
  16/{968/1010/7,1010/1062/5,1208/1278/3,1285/1315/8,1318/1388/1},
  17/{1020/1060/7},18/{1002/1042/7},
  19/{945/995/6,995/1037/7,1215/1287/3,1292/1325/8,1325/1395/1,1405/1463/4}}{
  \pgfmathsetmacro\yy{97+47*\r}
  \foreach \s/\e/\m in \lst {\fill[Epr\m] ({1440+\s/3},\yy-5.3) rectangle ({1440+\e/3},\yy+5.3);}
}
\foreach \r in {9,10,11,13}{\pgfmathsetmacro\yy{97+47*\r}
  \foreach \s/\e/\m in {950/962/11,962/1002/7,1008/1060/5,1060/1073/12,1073/1133/6,1133/1145/13,1145/1183/2,1197/1265/3,1265/1275/14,1275/1305/8,1308/1378/1,1392/1450/4}
  {\fill[Epr\m] ({1440+\s/3},\yy-5.3) rectangle ({1440+\e/3},\yy+5.3);}}
\draw[dbox] (1525,77.5) rectangle (1943.3,398.8);
\draw[dbox] (1525,505.5) rectangle (1943.3,767.8);

% legends E
\draw[leg] (1526.7,1003.8) rectangle (1728.3,1035);
\node[legn, anchor=west] (lEm) at (1528.5,1013.7) {motif};
\foreach \i/\x in {1/1566,2/1584.3,3/1603,4/1621.7,5/1640,6/1658.3,7/1676.7,8/1695.3,9/1714}{
  \fill[Epm\i] (\x-5.5,1008.2) rectangle ++(11,11);
  \node[legn] (lEmn\i) at (\x,1026) {\i};
}
\draw[leg] (1490.7,1039.8) rectangle (1735,1071.9);
\node[legn, anchor=west] (lEtf) at (1494,1045.8) {TF};
\foreach \c/\t/\x in {eB3/B3/1519.3,eGATA/GATA/1558.3,ebHLH/bHLH/1596.7,eMYB/MYB/1635.7,eERF/ERF/1674.3,eTri/Trihelix/1713.3}{
  \fill[\c] (\x-5.5,1042.8) rectangle ++(11,11);
  \node[legn] (lEt\t) at (\x,1063.7) {\t};
}
\draw[leg] (1748.3,1006.6) rectangle (1943.3,1069);
\node[legn, rotate=90] (lEpm) at (1754.3,1037) {motif};
\foreach \i in {1,...,7}{
  \pgfmathsetmacro\xx{1769+27.17*(\i-1)}
  \fill[Epr\i] (\xx-6.5,1009.6) rectangle ++(13,12);
  \node[legn] (lEpn\i) at (\xx,1031.6) {\i};
}
\foreach \i in {8,...,14}{
  \pgfmathsetmacro\xx{1769+27.17*(\i-8)}
  \fill[Epr\i] (\xx-6.5,1041) rectangle ++(13,12);
  \node[legn] (lEpn\i) at (\xx,1062) {\i};
}
\end{tikzpicture}
\end{document}
